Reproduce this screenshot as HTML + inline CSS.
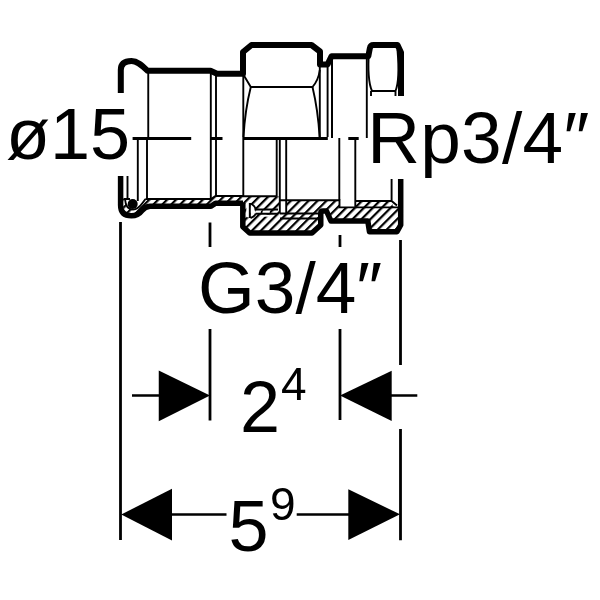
<!DOCTYPE html>
<html><head><meta charset="utf-8">
<style>
html,body{margin:0;padding:0;background:#fff;width:600px;height:600px;overflow:hidden}
svg{display:block;will-change:transform}
text{font-family:"Liberation Sans",sans-serif;fill:#000}
</style></head>
<body>
<svg width="600" height="600" viewBox="0 0 600 600">
<defs>
<pattern id="h" width="6.3" height="6.3" patternUnits="userSpaceOnUse" patternTransform="rotate(45)">
<rect x="0" y="0" width="2.2" height="6.3" fill="#000"/>
</pattern>
</defs>
<rect width="600" height="600" fill="#fff"/>

<!-- hatched section areas -->
<g fill="url(#h)" stroke="none">
<path d="M123,199 H125 C125.5,206 128.5,209.5 133,209.5 C137,209.5 140,206.5 142.5,203 L145.5,199.3 H211 L215.5,196 H243 V206 H216 L211,208 H150 Q145,208 142,210.5 Q138,215.7 131.5,215.7 Q123,215.7 123,205 Z"/>
<path d="M243,196.3 H279.8 V200.2 H339.5 V207.4 H355 V201 H392.6 V206 H398 L400.5,206 V225 L397,231.7 H369.5 L367.8,220 H331 L330,219 L326.5,211 H323 Q320.75,211 320.75,213 V225 L312,233 H249.7 L242.5,226.7 Z"/>
</g>
<!-- white pieces inside section -->
<g fill="#fff">
<rect x="279.8" y="196" width="6.4" height="17.6"/>
<rect x="340" y="200" width="15" height="7"/>
<rect x="246.3" y="203.3" width="2.8" height="14"/>
<path d="M250.5,204 Q255,206 255,210 V213 Q255,216 250.5,217.5 Z"/>
<rect x="256.5" y="210.3" width="4.2" height="2.7"/>
<rect x="262.7" y="210.3" width="7" height="2.7"/>
<rect x="262.7" y="214.7" width="7" height="2"/>
</g>

<!-- thin lines -->
<g fill="none" stroke="#000" stroke-width="1.9">
<path d="M148.25,71 V138"/>
<path d="M147,138 V199.5"/>
<path d="M137.8,138 V201"/>
<path d="M127.5,176 V199 M123.5,199 H130"/>
<path d="M125,199 C125.5,206 128.5,209.5 133,209.5 C137,209.5 140,206.5 142.5,203 L145.5,199"/>
<path d="M210.8,71 V199"/>
<path d="M216,74 V195.7"/>
<path d="M243.3,74 V196"/>
<path d="M243,74 L250.8,87 H312.5 Q318.5,80 319.8,70"/>
<path d="M250.8,87 Q245,110 243.5,137"/>
<path d="M312.5,87 Q318,110 319.6,137"/>
<path d="M319.8,64 V137 M327.6,64 V137"/>
<path d="M332,56 V138" stroke-width="2"/>
<path d="M366.8,56 V138"/>
<path d="M369,50 Q367,80 372,91 H395.5 Q400,80 397.5,50 M371,91 V96 M395.5,91 V96"/>
<path d="M145.5,199 H211 L215.5,196 H243"/>
<path d="M243,196.3 H276.7"/>
<path d="M276.7,138 V196.3 M279.8,138 V213.6 M286.2,138 V213.6"/>
<path d="M279.8,200.2 H339.5 V207.4 H398"/>
<path d="M355.3,138 V207 M355.3,201 H391.6 L397,205.5 M391.6,201 V178"/>
<path d="M280,213.5 H318 M280,218.5 H318"/>
<path d="M339.3,138 V200.2"/>
<path d="M249.8,203 V218 M250.5,203.5 Q255.5,206 255.5,209.5 H278 M255.5,213.8 H278 M255.5,213.5 Q255.5,216 250.5,218"/>
</g>

<!-- thick outline -->
<g fill="none" stroke="#000" stroke-width="6" stroke-linejoin="round">
<path d="M120.8,176 V70 C120.8,63.5 125,61 131.5,61 C137.5,61 142,65.5 147.5,70.7 H210.5 L217,73.7 H243 V52 L251.5,45 H311.5 L320,51.5 V64.5 H327.5 L331.5,56.3 H368.3 L369.8,48.5 Q370.4,45 373.5,45 H397.5 L401,52.5 V178"/>
</g>
<g fill="none" stroke="#000" stroke-width="5.5" stroke-linejoin="round">
<path d="M120.6,140 V205 Q120.6,215.8 131.5,215.8 Q138,215.8 142,210.5 Q145,206.5 150,206.2 H211 L215.5,203.2 H243"/>
<path d="M242.8,203 V226.7 L249.7,233 H312 L320.75,225 V213 Q320.75,211 323,211 H326.5 L330,219 L331,221 H367.8 L369.5,231.7 H397 L400.7,225 V170"/>
</g>
<circle cx="132.7" cy="204" r="5" fill="#000"/>

<!-- center line -->
<g stroke="#000" stroke-width="3">
<path d="M132.6,138.6 H191.2 M210.6,138.6 H222.5 M244,138.6 H327.8 M348.3,138.6 H358.7"/>
</g>

<!-- extension lines -->
<g stroke="#000" stroke-width="2.8" fill="none">
<path d="M120.5,222 V540"/>
<path d="M210,222.5 V420.5"/>
<path d="M340,235 V420"/>
<path d="M400.5,240 V540.2"/>
</g>

<!-- text boxes -->
<g fill="#fff">
<rect x="0" y="93" width="131" height="83"/>
<rect x="368" y="96" width="232" height="83"/>
<rect x="198" y="247" width="188" height="82"/>
<rect x="343" y="365" width="67" height="64"/>
</g>

<!-- dimension 2^4 -->
<g stroke="#000" stroke-width="2.5">
<path d="M132,395.5 H160 M390,395.5 H417.3"/>
<path d="M172,514.5 H226.5 M296.7,514.5 H350"/>
</g>
<g fill="#000">
<path d="M158.75,370.5 L210,395.5 L158.75,421.25 Z"/>
<path d="M391.7,370.7 L340,395.5 L391.7,421 Z"/>
<path d="M172,488.75 L121.25,514.5 L172,540.5 Z"/>
<path d="M348.3,489.3 L400,514.3 L348.3,540 Z"/>
</g>

<!-- texts -->
<text x="6" y="158.75" font-size="72">ø15</text>
<text x="367.2" y="162.6" font-size="73" letter-spacing="0.3">Rp3/4″</text>
<text x="198" y="312.5" font-size="73">G3/4″</text>
<text x="240" y="431.7" font-size="72">2</text>
<text x="281" y="400" font-size="46">4</text>
<text x="228.5" y="550.7" font-size="72">5</text>
<text x="270" y="520" font-size="46">9</text>
</svg>
</body></html>
